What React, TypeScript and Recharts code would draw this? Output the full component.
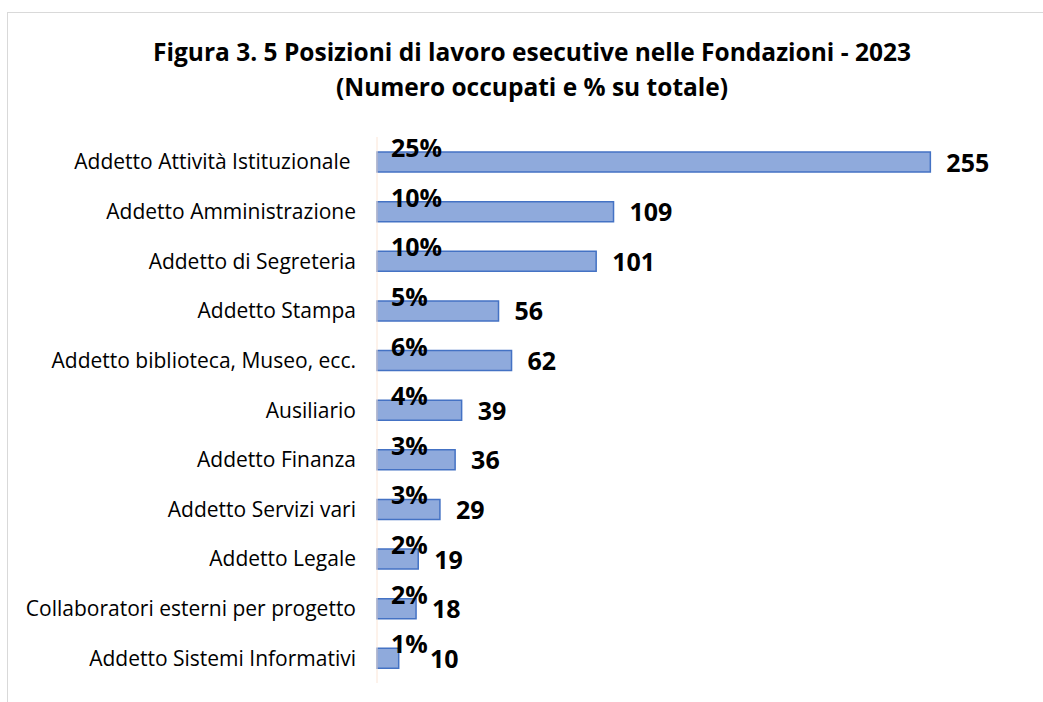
import React from "react";
import { BarChart, Bar, XAxis, YAxis, LabelList } from "recharts";

const categories = [
  "Addetto Attività Istituzionale ",
  "Addetto Amministrazione",
  "Addetto di Segreteria",
  "Addetto Stampa",
  "Addetto biblioteca, Museo, ecc.",
  "Ausiliario",
  "Addetto Finanza",
  "Addetto Servizi vari",
  "Addetto Legale",
  "Collaboratori esterni per progetto",
  "Addetto Sistemi Informativi",
];
const occupati = [255, 109, 101, 56, 62, 39, 36, 29, 19, 18, 10];
const percentuali = ["25%", "10%", "10%", "5%", "6%", "4%", "3%", "3%", "2%", "2%", "1%"];
const titleLines = [
  "Figura 3. 5 Posizioni di lavoro esecutive nelle Fondazioni - 2023",
  "(Numero occupati e % su totale)",
];

const data = categories.map((c, i) => ({ name: c, value: occupati[i], pct: percentuali[i] }));

const FONT = "'Open Sans', sans-serif";

const PctLabel = (props: any) => {
  const { x, y, index } = props;
  return (
    <text x={Number(x) + 14} y={Number(y) + 5} textAnchor="start"
      fontFamily={FONT} fontWeight={700} fontSize={25} fill="#000">
      {percentuali[index]}
    </text>
  );
};

const ValueLabel = (props: any) => {
  const { x, y, width, height, value } = props;
  const lx = Math.max(Number(x) + Number(width) + 16, Number(x) + 53);
  return (
    <text x={lx} y={Number(y) + Number(height) / 2 + 9.5} textAnchor="start"
      fontFamily={FONT} fontWeight={700} fontSize={25} fill="#000">
      {value}
    </text>
  );
};

const CatTick = (props: any) => {
  const { y, payload } = props;
  return (
    <text x={356} y={Number(y) + 7.5} textAnchor="end" fontFamily={FONT} fontSize={21} fill="#000"
      style={{ whiteSpace: "pre" }}>
      {payload.value}
    </text>
  );
};

export default function App() {
  return (
    <div style={{ position: "fixed", left: 0, top: 0, width: 1043, height: 702, overflow: "hidden", background: "#fff" }}>
      <div style={{ position: "absolute", left: 7, top: 12, width: 1100, height: 800, border: "1px solid #d9d9d9" }} />
      <svg style={{ position: "absolute", left: 0, top: 0 }} width={1043} height={120}>
        {titleLines.map((t, i) => (
          <text key={i} x={532} y={61 + i * 35} textAnchor="middle" fontFamily={FONT} fontWeight={700} fontSize={24.5} fill="#000">
            {t}
          </text>
        ))}
      </svg>
      <div style={{ position: "absolute", left: 0, top: 0 }}>
        <BarChart width={1043} height={702} data={data} layout="vertical"
          margin={{ top: 137, right: 15, bottom: 19, left: 0 }} barCategoryGap={0}>
          <XAxis type="number" domain={[0, 300]} hide />
          <YAxis type="category" dataKey="name" width={377} axisLine={{ stroke: "#fbe5d6", strokeWidth: 1 }}
            tickLine={false} tick={<CatTick />} interval={0} />
          <Bar dataKey="value" fill="#8faadc" stroke="#4472c4" strokeWidth={1.5} barSize={20} isAnimationActive={false}>
            <LabelList dataKey="value" content={<ValueLabel />} />
            <LabelList dataKey="pct" content={<PctLabel />} />
          </Bar>
        </BarChart>
      </div>
    </div>
  );
}
